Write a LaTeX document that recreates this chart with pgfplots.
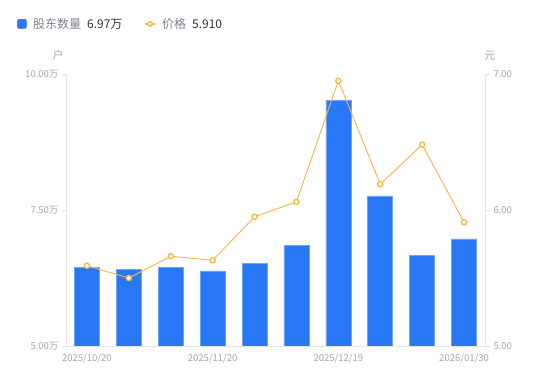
\documentclass[border=0pt]{standalone}
\usepackage{fontspec}
\setmainfont{Noto Sans CJK SC}
\usepackage{pgfplots}
\pgfplotsset{compat=1.18}
\definecolor{barblue}{HTML}{2878F6}
\definecolor{baredge}{HTML}{6FA3F8}
\definecolor{lineor}{HTML}{F8B445}
\definecolor{axgray}{HTML}{E3E3E8}
\definecolor{tickgray}{HTML}{A3A5B3}
\definecolor{leggray}{HTML}{80808E}
\definecolor{legdark}{HTML}{33333A}
\begin{document}
\begin{tikzpicture}
\useasboundingbox (-66bp,-35bp) rectangle (484bp,346bp);
\begin{axis}[
  scale only axis, width=419bp, height=272bp,
  xmin=-0.5, xmax=9.5, ymin=5, ymax=10,
  axis x line*=bottom, axis y line*=left,
  axis line style={draw=axgray, line width=0.8bp},
  xtick={0,3,6,9},
  xticklabels={2025/10/20,2025/11/20,2025/12/19,2026/01/30},
  x tick style={draw=none},
  ytick={5,7.5,10},
  yticklabels={5.00万,7.50万,10.00万},
  y tick style={draw=axgray, line width=0.8bp},
  major tick length=5bp, tick align=outside,
  tick label style={font=\fontsize{9.5bp}{11bp}\selectfont, text=tickgray},
  xticklabel style={yshift=1bp},
  yticklabel style={xshift=1bp},
  /pgf/number format/assume math mode=true,
  every axis y label/.style={at={(rel axis cs:0,1)}, anchor=south, xshift=-8bp, yshift=10bp, font=\fontsize{11bp}{13bp}\selectfont, text=tickgray},
  ylabel={户},
  legend style={at={(rel axis cs:-0.1169,1.184)}, anchor=west, draw=none, fill=none, inner sep=0pt,
    font=\fontsize{12bp}{14bp}\selectfont, text=leggray,
    /tikz/every odd column/.append style={column sep=4.5bp},
    /tikz/every even column/.append style={column sep=20bp}},
  legend columns=2,
  legend cell align=left,
]
\addplot[ybar, bar width=25bp, fill=barblue, draw=baredge, line width=0.6bp, forget plot]
  coordinates {(0,6.44) (1,6.41) (2,6.45) (3,6.38) (4,6.52) (5,6.85) (6,9.52) (7,7.76) (8,6.67) (9,6.97)};
\addlegendimage{legend image code/.code={\fill[barblue, rounded corners=1.2bp] (0bp,-4.5bp) rectangle (9bp,4.5bp);}}
\addlegendentry{股东数量\hspace{6bp}\textcolor{legdark}{6.97万}}
\addlegendimage{legend image code/.code={\draw[lineor, line width=1.2bp] (0bp,0bp) -- (10bp,0bp); \draw[lineor, line width=1.3bp, fill=white] (5bp,0bp) circle (2.3bp);}}
\addlegendentry{价格\hspace{6bp}\textcolor{legdark}{5.910}}
\end{axis}
\begin{axis}[
  scale only axis, width=419bp, height=272bp,
  xmin=-0.5, xmax=9.5, ymin=5, ymax=7,
  axis x line=none, axis y line*=right,
  axis line style={draw=axgray, line width=0.8bp},
  ytick={5,6,7},
  yticklabels={5.00,6.00,7.00},
  y tick style={draw=axgray, line width=0.8bp},
  major tick length=5bp, tick align=outside,
  tick label style={font=\fontsize{9.5bp}{11bp}\selectfont, text=tickgray},
  /pgf/number format/assume math mode=true,
  every axis y label/.style={at={(rel axis cs:1,1)}, anchor=south, xshift=5bp, yshift=10bp, font=\fontsize{11bp}{13bp}\selectfont, text=tickgray},
  ylabel={元},
]
\addplot[lineor, line width=0.9bp, mark=*, mark size=2.6bp, mark options={fill=white, draw=lineor, line width=1.3bp}]
  coordinates {(0,5.59) (1,5.50) (2,5.66) (3,5.63) (4,5.95) (5,6.06) (6,6.95) (7,6.19) (8,6.48) (9,5.91)};
\end{axis}
\end{tikzpicture}
\end{document}
